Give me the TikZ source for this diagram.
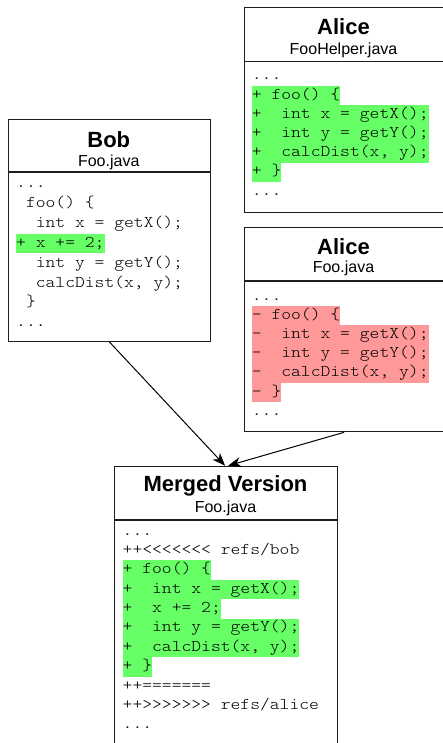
\documentclass[tikz,border=0pt]{standalone}
\usepackage{fontspec}
\setmainfont{Liberation Sans}
\setmonofont{lmmonolt10-regular.otf}[FakeStretch=1.14]
\usetikzlibrary{arrows.meta}
\definecolor{hlgreen}{RGB}{102,255,102}
\definecolor{hlred}{RGB}{255,153,153}
\definecolor{edgec}{RGB}{30,30,30}
\newcommand{\codefs}{\fontsize{16.4}{19.3}\selectfont\ttfamily\frenchspacing}
\begin{document}
\begin{tikzpicture}[x=1pt,y=-1pt,
  box/.style={draw=edgec, line width=1.2pt, fill=white, rectangle, inner sep=0pt, anchor=north west},
  divider/.style={draw=edgec, line width=1.2pt},
  titletext/.style={font=\fontsize{22}{26}\selectfont\bfseries, inner sep=0pt, anchor=base},
  subtext/.style={font=\fontsize{16}{19}\selectfont, inner sep=0pt, anchor=base},
  codeln/.style={anchor=base west, inner sep=0pt, text height=13.3pt, text depth=6pt, font=\codefs, text=black},
  hl/.style={codeln, fill=hlgreen},
  rm/.style={codeln, fill=hlred},
  conn/.style={draw=black, line width=1pt, -{Stealth[length=13pt,width=10pt,inset=4pt]}}
]
\useasboundingbox (0,0) rectangle (442,743);

% ---------- Alice / FooHelper.java ----------
\node[box, minimum width=200pt, minimum height=204.4pt] (a1) at (243.5,7.3) {};
\draw[divider] ([yshift=-54.4pt]a1.north west) -- ([yshift=-54.4pt]a1.north east);
\node[titletext] (a1t) at (343.5,34.3) {Alice};
\node[subtext] (a1s) at (343.5,54.3) {FooHelper.java};
\node[codeln] (a1l0) at (251.7,80.0) {...};
\node[hl] (a1l1) at (251.7,99.2) {+ foo() \{};
\node[hl] (a1l2) at (251.7,118.4) {+~~int x = getX();};
\node[hl] (a1l3) at (251.7,137.6) {+~~int y = getY();};
\node[hl] (a1l4) at (251.7,156.8) {+~~calcDist(x, y);};
\node[hl] (a1l5) at (251.7,176.0) {+ \}};
\node[codeln] (a1l6) at (251.7,195.2) {...};

% ---------- Alice / Foo.java ----------
\node[box, minimum width=200pt, minimum height=204.4pt] (a2) at (243.5,226.7) {};
\draw[divider] ([yshift=-54.2pt]a2.north west) -- ([yshift=-54.2pt]a2.north east);
\node[titletext] (a2t) at (343.5,254.3) {Alice};
\node[subtext] (a2s) at (343.5,272.5) {Foo.java};
\node[codeln] (a2l0) at (251.7,300.0) {...};
\node[rm] (a2l1) at (251.7,319.2) {- foo() \{};
\node[rm] (a2l2) at (251.7,338.4) {-~~int x = getX();};
\node[rm] (a2l3) at (251.7,357.6) {-~~int y = getY();};
\node[rm] (a2l4) at (251.7,376.8) {-~~calcDist(x, y);};
\node[rm] (a2l5) at (251.7,396.0) {- \}};
\node[codeln] (a2l6) at (251.7,415.2) {...};

% ---------- Bob / Foo.java ----------
\node[box, minimum width=202.5pt, minimum height=221.7pt] (bob) at (7.5,119) {};
\draw[divider] ([yshift=-53pt]bob.north west) -- ([yshift=-53pt]bob.north east);
\node[titletext] (bobt) at (108.75,147.3) {Bob};
\node[subtext] (bobs) at (108.75,166.7) {Foo.java};
\node[codeln] (bl0) at (16,188.0) {...};
\node[codeln] (bl1) at (16,207.8) {~foo() \{};
\node[codeln] (bl2) at (16,227.6) {~~int x = getX();};
\node[hl] (bl3) at (16,247.4) {+ x += 2;};
\node[codeln] (bl4) at (16,267.2) {~~int y = getY();};
\node[codeln] (bl5) at (16,287.0) {~~calcDist(x, y);};
\node[codeln] (bl6) at (16,306.8) {~\}};
\node[codeln] (bl7) at (16,326.6) {...};

% ---------- Merged Version ----------
\node[box, minimum width=223pt, minimum height=300pt] (mrg) at (114,465.7) {};
\draw[divider] ([yshift=-54.3pt]mrg.north west) -- ([yshift=-54.3pt]mrg.north east);
\node[titletext] (mrgt) at (225.5,491.7) {Merged Version};
\node[subtext] (mrgs) at (225.5,512.3) {Foo.java};
\node[codeln] (ml0) at (122.5,535.0) {...};
\node[codeln] (ml1) at (122.5,554.4) {++<<<<<<< refs/bob};
\node[hl] (ml2) at (122.5,573.7) {+ foo() \{};
\node[hl] (ml3) at (122.5,593.1) {+~~int x = getX();};
\node[hl] (ml4) at (122.5,612.5) {+~~x += 2;};
\node[hl] (ml5) at (122.5,631.9) {+~~int y = getY();};
\node[hl] (ml6) at (122.5,651.2) {+~~calcDist(x, y);};
\node[hl] (ml7) at (122.5,670.6) {+ \}};
\node[codeln] (ml8) at (122.5,690.0) {++=======};
\node[codeln] (ml9) at (122.5,709.3) {++>>>>>>> refs/alice};
\node[codeln] (ml10) at (122.5,728.7) {...};

% ---------- connectors ----------
\draw[conn] (bob.south) -- ([xshift=-1pt]mrg.north);
\draw[conn] (a2.south) -- ([xshift=2pt]mrg.north);
\end{tikzpicture}
\end{document}
